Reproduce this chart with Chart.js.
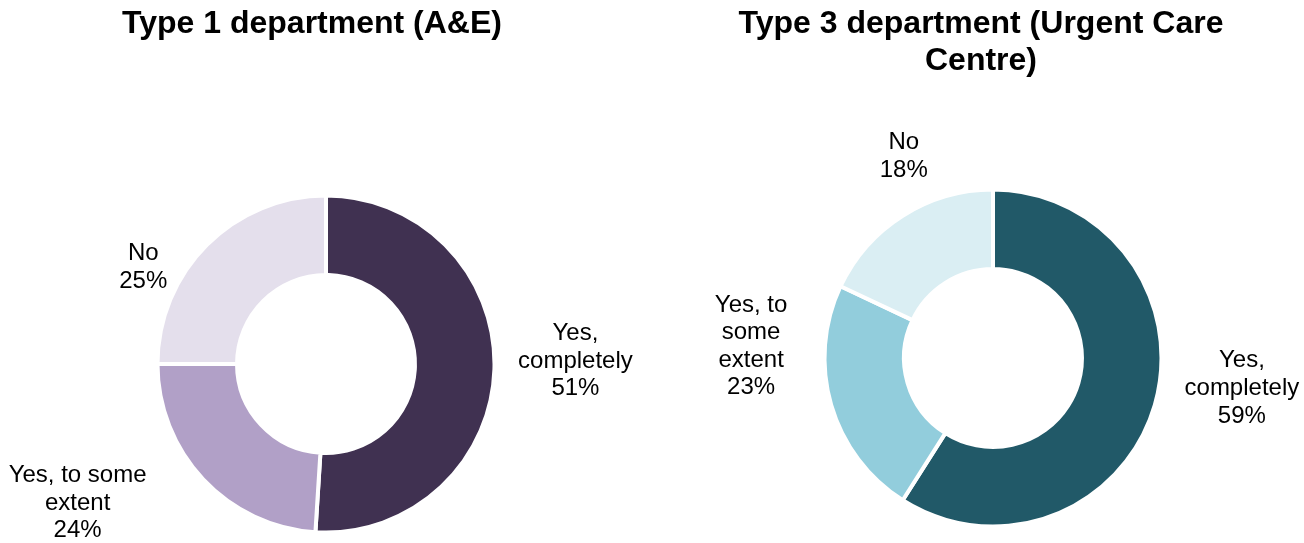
<!DOCTYPE html>
<html><head><meta charset="utf-8">
<script src="https://cdn.jsdelivr.net/npm/chart.js@4"></script>
<style>
html,body{margin:0;padding:0;background:#fff;overflow:hidden}
#wrap{position:relative;width:1304px;height:543px}
canvas{position:absolute;top:0}
</style></head><body>
<div id="wrap">
<canvas id="c1" width="652" height="543" style="left:0"></canvas>
<canvas id="c2" width="652" height="543" style="left:652px"></canvas>
</div>
<script>
// ---- data ----
const categories = ["Yes, completely", "Yes, to some extent", "No"];
const type1Values = [51, 24, 25];
const type3Values = [59, 23, 18];
const type1Title = ["Type 1 department (A&E)"];
const type3Title = ["Type 3 department (Urgent Care", "Centre)"];
const type1LabelLines = [["Yes,", "completely"], ["Yes, to some", "extent"], ["No"]];
const type3LabelLines = [["Yes,", "completely"], ["Yes, to", "some", "extent"], ["No"]];

// ---- styles / layout ----
const type1Colors = ["#403151", "#B1A0C7", "#E4DFEC"];
const type3Colors = ["#215968", "#92CDDC", "#DAEEF3"];
const FONT = '"Liberation Sans", Arial, Helvetica, sans-serif';

function makePlugins(cfg) {
  return [{
    id: 'outsideLabels',
    afterDatasetsDraw(chart) {
      const ctx = chart.ctx;
      const meta = chart.getDatasetMeta(0);
      const vals = chart.data.datasets[0].data;
      ctx.save();
      ctx.font = '24px ' + FONT;
      ctx.fillStyle = '#000';
      ctx.textAlign = 'center';
      ctx.textBaseline = 'middle';
      meta.data.forEach((arc, i) => {
        const p = arc.getProps(['x', 'y', 'startAngle', 'endAngle', 'outerRadius'], true);
        const mid = (p.startAngle + p.endAngle) / 2;
        const r = p.outerRadius - 2;
        const ax = p.x + Math.cos(mid) * r;
        const ay = p.y + Math.sin(mid) * r;
        const lines = [...cfg.lines[i], vals[i] + '%'];
        const cx = ax + cfg.offsets[i][0];
        const cy = ay + cfg.offsets[i][1];
        const lh = 27.6;
        const y0 = cy - (lines.length - 1) * lh / 2;
        lines.forEach((t, k) => ctx.fillText(t, cx, y0 + k * lh));
      });
      ctx.restore();
    }
  }, {
    id: 'sideTitle',
    afterDraw(chart) {
      const ctx = chart.ctx;
      ctx.save();
      ctx.font = 'bold 32px ' + FONT;
      ctx.fillStyle = '#000';
      ctx.textAlign = 'center';
      ctx.textBaseline = 'alphabetic';
      cfg.title.forEach((t, k) => ctx.fillText(t, cfg.titleX, 33 + k * 37));
      ctx.restore();
    }
  }];
}

function makeChart(id, values, colors, padding, cfg) {
  return new Chart(document.getElementById(id), {
    type: 'doughnut',
    data: {
      labels: categories,
      datasets: [{
        data: values,
        backgroundColor: colors,
        borderColor: '#ffffff',
        borderWidth: 4,
        hoverOffset: 0
      }]
    },
    options: {
      responsive: false,
      animation: false,
      devicePixelRatio: 1,
      radius: 168.5,
      cutout: '52.8%',
      rotation: 0,
      layout: { padding: padding },
      plugins: { legend: { display: false }, tooltip: { enabled: false }, title: { display: false } },
      events: []
    },
    plugins: makePlugins(cfg)
  });
}

makeChart('c1', type1Values, type1Colors, { top: 195, bottom: 10, left: 0, right: 0 }, {
  lines: type1LabelLines,
  offsets: [[83, -8], [-127, 25], [-65, 21]],
  title: type1Title, titleX: 312
});
makeChart('c2', type3Values, type3Colors, { top: 185, bottom: 12, left: 30, right: 0 }, {
  lines: type3LabelLines,
  offsets: [[89, -16], [-82, -58], [0, -61]],
  title: type3Title, titleX: 329
});
</script>
</body></html>
